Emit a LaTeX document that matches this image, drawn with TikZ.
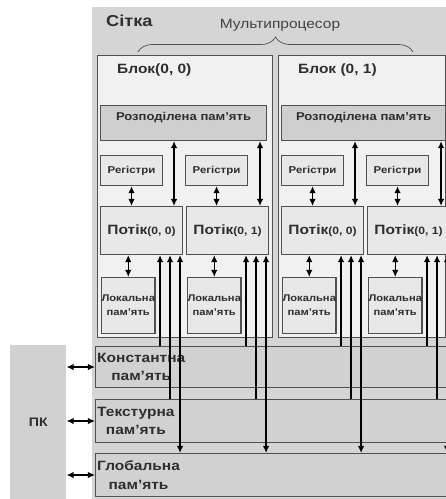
\documentclass[tikz,border=0pt]{standalone}
\usepackage{fontspec}
\setmainfont{Liberation Sans}[FakeStretch=1.15]
\usetikzlibrary{arrows.meta,positioning,decorations.pathreplacing}
\definecolor{gridgray}{HTML}{D5D5D5}
\definecolor{blockfill}{HTML}{F1F1F1}
\definecolor{smemfill}{HTML}{CFCFCF}
\definecolor{cellfill}{HTML}{E8E8E8}
\definecolor{memfill}{HTML}{D1D1D1}
\definecolor{edgegray}{HTML}{505050}
\definecolor{txtgray}{HTML}{2E2E2E}

\begin{document}
\begin{tikzpicture}[x=0.03cm,y=-0.03cm,>={Latex[length=6pt,width=5.5pt]},
  every node/.style={font=\bfseries,text=txtgray,inner sep=0pt}]
\tikzstyle{box}=[draw=edgegray,line width=0.9pt,anchor=north west]
\tikzstyle{blockbox}=[box,fill=blockfill,minimum height=8.46cm]
\tikzstyle{smembox}=[box,fill=smemfill,minimum height=1.05cm]
\tikzstyle{regbox}=[box,fill=cellfill,minimum width=1.86cm,minimum height=0.9cm,font=\bfseries\fontsize{8.5}{10}\selectfont]
\tikzstyle{thrbox}=[box,fill=cellfill,minimum width=2.46cm,minimum height=1.44cm]
\tikzstyle{locbox}=[box,fill=cellfill,minimum width=1.59cm,minimum height=1.68cm,align=center,font=\bfseries\fontsize{8.3}{12}\selectfont]
\tikzstyle{membox}=[box,fill=memfill,minimum width=11.1cm]
\tikzstyle{memtext}=[align=center,font=\bfseries\fontsize{11.5}{16}\selectfont]
\tikzstyle{smemtext}=[font=\bfseries\fontsize{9.7}{11}\selectfont]
\tikzstyle{blktext}=[anchor=west,font=\bfseries\fontsize{11.5}{13}\selectfont]
\tikzstyle{wire}=[line width=1.2pt]
\clip (0,0) rectangle (446,499);
\fill[white] (0,0) rectangle (446,499);
% grid and PC
\node[fill=gridgray,anchor=north west,minimum width=11.04cm,minimum height=15cm] (grid) at (92,7) {};
\node[anchor=west,font=\bfseries\fontsize{13.5}{15}\selectfont] (gridtxt) at (106,21) {Сітка};
\node[font=\fontsize{11.5}{13}\selectfont,text=txtgray!90] (mptxt) at (280,25) {Мультипроцесор};
\coordinate (brl) at (138,52);
\coordinate (brr) at (413,52);
\draw[decorate,decoration={brace,amplitude=0.45cm},draw=edgegray,line width=0.6pt] (brl) -- (brr);
\node[fill=memfill,anchor=north west,minimum width=1.68cm,minimum height=4.62cm,font=\bfseries\fontsize{10.5}{12}\selectfont] (pc) at (10,345) {ПК};
% blocks
\node[blockbox,minimum width=5.25cm] (blk0) at (97,55) {};
\node[blockbox,minimum width=5.01cm] (blk1) at (278,55) {};
\node[blktext] (blk0txt) at (117,70) {Блок(0, 0)};
\node[blktext] (blk1txt) at (298,70) {Блок (0, 1)};
\node[smembox,minimum width=4.98cm] (smem0) at (100,105) {};
\node[smembox,minimum width=4.92cm] (smem1) at (281,105) {};
\node[smemtext,below=0.22cm of smem0.north] (smem0txt) {Розподілена пам’ять};
\node[smemtext,below=0.22cm of smem1.north] (smem1txt) {Розподілена пам’ять};
\node[regbox] (reg00) at (100,155) {Регістри};
\node[regbox] (reg01) at (185,155) {Регістри};
\node[regbox] (reg10) at (281,155) {Регістри};
\node[regbox] (reg11) at (366,155) {Регістри};
\node[thrbox] (thr00) at (100,206) {{\fontsize{11.5}{13}\selectfont Потік}{\fontsize{9}{10}\selectfont(0, 0)}};
\node[thrbox] (thr01) at (186,206) {{\fontsize{11.5}{13}\selectfont Потік}{\fontsize{9}{10}\selectfont(0, 1)}};
\node[thrbox] (thr10) at (281,206) {{\fontsize{11.5}{13}\selectfont Потік}{\fontsize{9}{10}\selectfont(0, 0)}};
\node[thrbox] (thr11) at (367,206) {{\fontsize{11.5}{13}\selectfont Потік}{\fontsize{9}{10}\selectfont(0, 1)}};
\node[locbox] (loc00) at (101,277) {Локальна\\пам’ять};
\node[locbox] (loc01) at (187,277) {Локальна\\пам’ять};
\node[locbox] (loc10) at (282,277) {Локальна\\пам’ять};
\node[locbox] (loc11) at (368,277) {Локальна\\пам’ять};
% memories
\node[membox,minimum height=1.23cm] (cmem) at (95,346) {};
\node[membox,minimum height=1.29cm] (tmem) at (95,399) {};
\node[membox,minimum height=1.29cm] (gmem) at (95,453) {};
\node[memtext,right=0.06cm of cmem.west] (cmemtxt) {Константна\\пам’ять};
\node[memtext,right=0.06cm of tmem.west] (tmemtxt) {Текстурна\\пам’ять};
\node[memtext,right=0.06cm of gmem.west] (gmemtxt) {Глобальна\\пам’ять};
% arrows inside blocks
\draw[<->,wire] (reg00.south) -- (reg00.south |- thr00.north);
\draw[<->,wire] (reg01.south) -- (reg01.south |- thr01.north);
\draw[<->,wire] (reg10.south) -- (reg10.south |- thr10.north);
\draw[<->,wire] (reg11.south) -- (reg11.south |- thr11.north);
\draw[<->,wire] (loc00.north |- thr00.south) -- (loc00.north);
\draw[<->,wire] (loc01.north |- thr01.south) -- (loc01.north);
\draw[<->,wire] (loc10.north |- thr10.south) -- (loc10.north);
\draw[<->,wire] (loc11.north |- thr11.south) -- (loc11.north);
\draw[<->,wire] ([xshift=-0.27cm]thr00.north east |- smem0.south) -- ([xshift=-0.27cm]thr00.north east);
\draw[<->,wire] ([xshift=-0.27cm]thr01.north east |- smem0.south) -- ([xshift=-0.27cm]thr01.north east);
\draw[<->,wire] ([xshift=-0.27cm]thr10.north east |- smem1.south) -- ([xshift=-0.27cm]thr10.north east);
\draw[<->,wire] ([xshift=-0.27cm]thr11.north east |- smem1.south) -- ([xshift=-0.27cm]thr11.north east);
% memory lines
\draw[->,wire] ([xshift=-0.69cm]thr00.south east |- cmem.north) -- ([xshift=-0.69cm]thr00.south east);
\draw[->,wire] ([xshift=-0.39cm]thr00.south east |- tmem.north) -- ([xshift=-0.39cm]thr00.south east);
\draw[<->,wire] ([xshift=-0.09cm]thr00.south east |- gmem.north) -- ([xshift=-0.09cm]thr00.south east);
\draw[->,wire] ([xshift=-0.69cm]thr01.south east |- cmem.north) -- ([xshift=-0.69cm]thr01.south east);
\draw[->,wire] ([xshift=-0.39cm]thr01.south east |- tmem.north) -- ([xshift=-0.39cm]thr01.south east);
\draw[<->,wire] ([xshift=-0.09cm]thr01.south east |- gmem.north) -- ([xshift=-0.09cm]thr01.south east);
\draw[->,wire] ([xshift=-0.69cm]thr10.south east |- cmem.north) -- ([xshift=-0.69cm]thr10.south east);
\draw[->,wire] ([xshift=-0.39cm]thr10.south east |- tmem.north) -- ([xshift=-0.39cm]thr10.south east);
\draw[<->,wire] ([xshift=-0.09cm]thr10.south east |- gmem.north) -- ([xshift=-0.09cm]thr10.south east);
\draw[->,wire] ([xshift=-0.69cm]thr11.south east |- cmem.north) -- ([xshift=-0.69cm]thr11.south east);
\draw[->,wire] ([xshift=-0.39cm]thr11.south east |- tmem.north) -- ([xshift=-0.39cm]thr11.south east);
\draw[<->,wire] ([xshift=-0.09cm]thr11.south east |- gmem.north) -- ([xshift=-0.09cm]thr11.south east);
% PC links
\draw[<->,wire] (pc.east |- cmem.west) -- (cmem.west);
\draw[<->,wire] (pc.east |- tmem.west) -- (tmem.west);
\draw[<->,wire] (pc.east |- gmem.west) -- (gmem.west);
\end{tikzpicture}
\end{document}
